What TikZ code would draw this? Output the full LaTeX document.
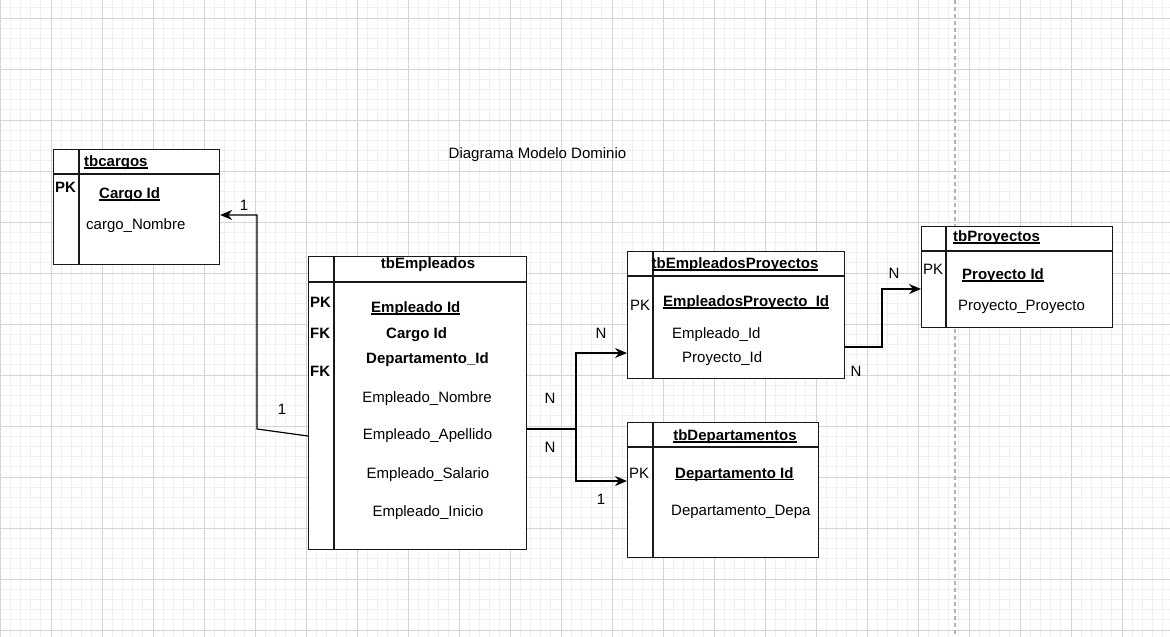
\documentclass[tikz,border=0pt]{standalone}
\usepackage{fontspec}
\setmainfont{Liberation Sans}
\usetikzlibrary{arrows.meta,calc}
\newcommand\fs{\fontsize{15}{18}\selectfont}
\newcommand\ul[1]{\setbox0\hbox{#1}\rlap{\rule[-2pt]{\wd0}{1.1pt}}\box0}
\begin{document}
\begin{tikzpicture}[x=1pt,y=-1pt,
  minorgrid/.style={draw=black!6,line width=0.8pt},
  majorgrid/.style={draw=black!17,line width=0.8pt},
  tbl/.style={draw=black!90,fill=white,line width=1.2pt,anchor=north west,inner sep=0pt},
  sep/.style={draw=black!90,line width=1.2pt},
  t/.style={inner sep=0pt,font=\fs,anchor=base west},
  tb/.style={inner sep=0pt,font=\fs\bfseries,anchor=base west},
  tc/.style={inner sep=0pt,font=\fs,anchor=base},
  tbc/.style={inner sep=0pt,font=\fs\bfseries,anchor=base},
  conn/.style={draw=black,line width=1.2pt},
  arr/.style={conn,-{Stealth[length=12pt,width=10pt]}}]
\useasboundingbox (0,0) rectangle (1170,637);
\fill[white] (0,0) rectangle (1170,637);
\begin{scope}
\clip (0,0) rectangle (1170,637);
\foreach \i in {0,...,115} \draw[minorgrid] (\i*10.2,0) -- (\i*10.2,637);
\foreach \i in {0,...,63} \draw[minorgrid] (0,\i*10.2-2.4) -- (1170,\i*10.2-2.4);
\foreach \i in {0,...,23} \draw[majorgrid] (\i*51,0) -- (\i*51,637);
\foreach \i in {0,...,12} \draw[majorgrid] (0,\i*51+18) -- (1170,\i*51+18);
\draw[draw=black!30,line width=1.2pt,dash pattern=on 4pt off 3pt] (955,0) -- (955,637);
\end{scope}

% title
\node[tc] (title) at (537.5,158.5) {Diagrama Modelo Dominio};

% tbcargos
\node[tbl,minimum width=166pt,minimum height=115pt] (cargos) at (53,149) {};
\draw[sep] ($(cargos.north west)+(0,25)$) -- ($(cargos.north east)+(0,25)$);
\draw[sep] ($(cargos.north west)+(26,0)$) -- ($(cargos.south west)+(26,0)$);
\node[tb] (cargosT) at (84,166.5) {\ul{tbcargos}};
\node[tb] (cargosPK) at (55,192.5) {PK};
\node[tb] (cargosId) at (99,198.5) {\ul{Cargo Id}};
\node[t] (cargosNom) at (86,229.5) {cargo\_Nombre};

% tbEmpleados
\node[tbl,minimum width=218pt,minimum height=293pt] (emp) at (308,256) {};
\draw[sep] ($(emp.north west)+(0,26)$) -- ($(emp.north east)+(0,26)$);
\draw[sep] ($(emp.north west)+(26,0)$) -- ($(emp.south west)+(26,0)$);
\node[tbc] (empT) at (428,268.5) {tbEmpleados};
\node[tb] (empPK) at (310,307) {PK};
\node[tb] (empFK1) at (310,338) {FK};
\node[tb] (empFK2) at (310,376) {FK};
\node[tb] (empId) at (371,312.5) {\ul{Empleado Id}};
\node[tb] (empCargo) at (386,338) {Cargo Id};
\node[tb] (empDep) at (366,363) {Departamento\_Id};
\node[tc] (empNom) at (427,402) {Empleado\_Nombre};
\node[tc] (empApe) at (427.5,439.5) {Empleado\_Apellido};
\node[tc] (empSal) at (428,478) {Empleado\_Salario};
\node[tc] (empIni) at (428,516) {Empleado\_Inicio};

% tbEmpleadosProyectos
\node[tbl,minimum width=217pt,minimum height=127pt] (ep) at (627,251) {};
\draw[sep] ($(ep.north west)+(0,25)$) -- ($(ep.north east)+(0,25)$);
\draw[sep] ($(ep.north west)+(26,0)$) -- ($(ep.south west)+(26,0)$);
\node[tbc] (epT) at (735,268.5) {\ul{tbEmpleadosProyectos}};
\node[t] (epPK) at (630,310.5) {PK};
\node[tb] (epId) at (663,306.5) {\ul{EmpleadosProyecto\_Id}};
\node[t] (epEmp) at (672,338) {Empleado\_Id};
\node[t] (epPro) at (682,362.5) {Proyecto\_Id};

% tbProyectos
\node[tbl,minimum width=191pt,minimum height=101pt] (proy) at (921,226) {};
\draw[sep] ($(proy.north west)+(0,25)$) -- ($(proy.north east)+(0,25)$);
\draw[sep] ($(proy.north west)+(25,0)$) -- ($(proy.south west)+(25,0)$);
\node[tb] (proyT) at (953,241.5) {\ul{tbProyectos}};
\node[t] (proyPK) at (923,274.5) {PK};
\node[tb] (proyId) at (962,279.5) {\ul{Proyecto Id}};
\node[t] (proyPro) at (958,310.5) {Proyecto\_Proyecto};

% tbDepartamentos
\node[tbl,minimum width=191pt,minimum height=135pt] (dep) at (627,422) {};
\draw[sep] ($(dep.north west)+(0,25)$) -- ($(dep.north east)+(0,25)$);
\draw[sep] ($(dep.north west)+(26,0)$) -- ($(dep.south west)+(26,0)$);
\node[tbc] (depT) at (735,440.5) {\ul{tbDepartamentos}};
\node[t] (depPK) at (629,478) {PK};
\node[tb] (depId) at (675,478) {\ul{Departamento Id}};
\node[t] (depDepa) at (671,515.5) {Departamento\_Depa};

% connectors
\coordinate (yA) at (0,436);
\coordinate (bA1) at (257,429);
\coordinate (bA2) at (257,215);
\draw[arr] (emp.west |- yA) -- (bA1) -- (bA2) -- (cargos.east |- bA2);

\coordinate (yB) at (0,429);
\coordinate (bB1) at (576,429);
\coordinate (bB2) at (576,353);
\coordinate (bB3) at (576,481);
\draw[arr] (emp.east |- yB) -- (bB1) -- (bB2) -- (ep.west |- bB2);
\draw[arr] (bB1) -- (bB3) -- (dep.west |- bB3);

\coordinate (yC) at (0,347);
\coordinate (bC1) at (882,347);
\coordinate (bC2) at (882,289);
\draw[arr] (ep.east |- yC) -- (bC1) -- (bC2) -- (proy.west |- bC2);

% labels
\node[tc] (l1) at (244,210.5) {1};
\node[tc] (l2) at (282,414.5) {1};
\node[tc] (l3) at (550,403.5) {N};
\node[tc] (l4) at (550,452.5) {N};
\node[tc] (l5) at (601,504.5) {1};
\node[tc] (l6) at (601,338.5) {N};
\node[tc] (l7) at (894,278.5) {N};
\node[tc] (l8) at (856,376.5) {N};
\end{tikzpicture}
\end{document}
